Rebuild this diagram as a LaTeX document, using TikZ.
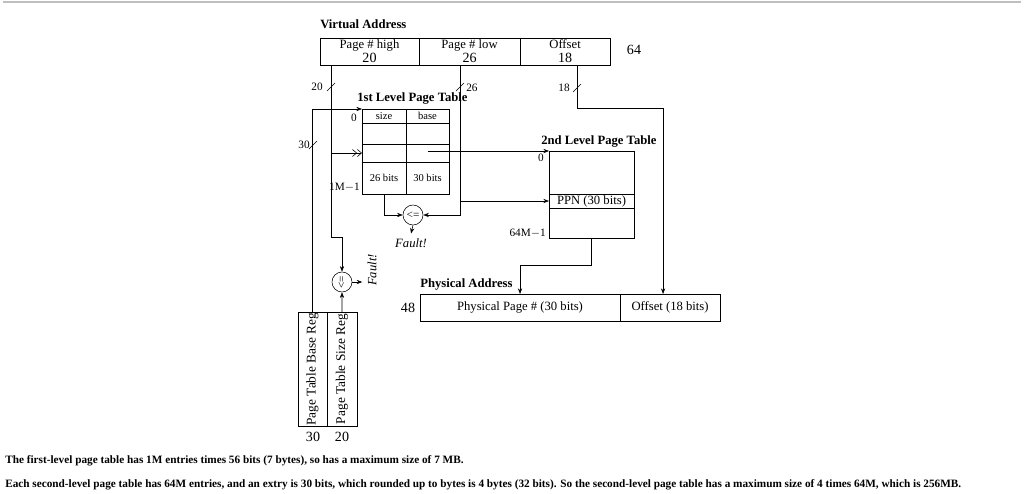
\documentclass[tikz,border=0pt]{standalone}
\usepackage{fontspec}
\setmainfont{Liberation Serif}
\usepackage{graphicx}
\usetikzlibrary{arrows.meta,positioning}

\begin{document}
\begin{tikzpicture}[x=0.025cm, y=-0.025cm, node distance=0pt, >={Stealth[length=4pt,width=3pt]},
  box/.style={draw, inner sep=0pt, outer sep=0pt, minimum height=0.675cm, font=\fontsize{9}{10}\selectfont, align=center},
  cell/.style={draw, inner sep=0pt, outer sep=0pt, minimum width=1.1cm, font=\fontsize{7.5}{9}\selectfont},
  head/.style={anchor=base west, inner sep=0pt, font=\fontsize{9}{10}\selectfont\bfseries},
  small/.style={inner sep=0pt, font=\fontsize{8}{9}\selectfont},
  num/.style={font=\fontsize{10}{11}\selectfont},
  cmp/.style={draw, circle, minimum size=0.5cm, inner sep=0pt, font=\fontsize{8}{9}\selectfont},
  reg/.style={draw, inner sep=0pt, outer sep=0pt, minimum height=2.85cm, font=\fontsize{9.5}{10}\selectfont},
  idx/.style={-{Straight Barb[length=3pt,width=5pt]Straight Barb[length=3pt,width=5pt]}},
  note/.style={anchor=base west, inner sep=0pt, font=\fontsize{8}{9}\selectfont\bfseries}]
  \useasboundingbox (0,0) rectangle (1024,493);
  \draw[black!25, line width=1pt] (3,2) -- (1021,2);

  % virtual address
  \node[head] (vatitle) at (320,28) {Virtual Address};
  \node[box, minimum width=2.475cm, anchor=north west] (vahi) at (320,38) {Page \# high\\{\fontsize{10}{10}\selectfont 20}};
  \node[box, minimum width=2.525cm, right=of vahi] (valo) {Page \# low\\{\fontsize{10}{10}\selectfont 26}};
  \node[box, minimum width=2.25cm, right=of valo] (vaoff) {Offset\\{\fontsize{10}{10}\selectfont 18}};
  \draw (vahi.north west) rectangle (vaoff.south east);
  \draw[dashed] (vahi.north east) -- (vahi.south east);
  \node[num] (vabits) at (634,50) {64};
  \coordinate (hi) at (331,65);
  \coordinate (lo) at (460,65);
  \coordinate (of) at (577,65);

  % first level table
  \node[head] (t1title) at (357,101) {1st Level Page Table};
  \node[cell, minimum height=.35cm, anchor=north west] (s0) at (362,109) {size};
  \node[cell, minimum width=1.075cm, minimum height=.35cm, right=of s0] (b0) {base};
  \node[cell, minimum height=.525cm, below=of s0] (s1) {};
  \node[cell, minimum width=1.075cm, minimum height=.525cm, right=of s1] (b1) {};
  \node[cell, minimum height=.45cm, below=of s1] (s2) {};
  \node[cell, minimum width=1.075cm, minimum height=.45cm, right=of s2] (b2) {};
  \node[cell, minimum height=.8cm, below=of s2] (s3) {26 bits};
  \node[cell, minimum width=1.075cm, minimum height=.8cm, right=of s3] (b3) {30 bits};
  \node[small, anchor=east] (t1first) at (357,118) {0};
  \node[small, anchor=east] (t1last) at (360,187) {1M$-$1};

  % second level table
  \node[head] (t2title) at (541,144) {2nd Level Page Table};
  \node[cell, minimum width=2.125cm, minimum height=1.075cm, anchor=north west] (p0) at (549,151) {};
  \node[cell, minimum width=2.125cm, minimum height=.35cm, below=of p0, font=\fontsize{9}{10}\selectfont] (ppn) {PPN (30 bits)};
  \node[cell, minimum width=2.125cm, minimum height=.75cm, below=of ppn] (p2) {};
  \node[small, anchor=east] (t2first) at (544,158) {0};
  \node[small, anchor=east] (t2last) at (546,233) {64M$-$1};

  % comparators
  \node[cmp] (le) at (413,215) {<=};
  \node[font=\fontsize{9}{10}\selectfont\itshape] (f1) at (411,243) {Fault!};
  \node[cmp] (ge) at (342,282) {\rotatebox{90}{<=}};
  \node[font=\fontsize{9}{10}\selectfont\itshape] (f2) at (372,270) {\rotatebox{90}{Fault!}};

  % registers
  \node[reg, minimum width=.725cm, anchor=north west] (breg) at (298,312) {\rotatebox{90}{Page Table Base Reg}};
  \node[reg, minimum width=.75cm, right=of breg] (sreg) {\rotatebox{90}{Page Table Size Reg}};
  \node[num] (bregbits) at (313,437) {30};
  \node[num] (sregbits) at (342,437) {20};

  % physical address
  \node[head] (patitle) at (420,287) {Physical Address};
  \node[box, minimum width=5cm, anchor=north west] (pp) at (420,294) {Physical Page \# (30 bits)};
  \node[box, minimum width=2.5cm, right=of pp] (poff) {Offset (18 bits)};
  \node[num] (pabits) at (408,308) {48};

  % wires
  \draw[->] (hi) -- ++(0,172) -| (ge.north);
  \draw[idx] (hi |- s2.west) -- (s2.west);
  \draw[->] (lo) |- (le.east);
  \draw[->] (lo |- ppn.west) -- (ppn.west);
  \draw[->] (b2.center |- p0.north) -- (p0.north west);
  \draw[->] (s3.south) |- (le.west);
  \draw[->] (le.south) -- (f1.north);
  \draw[->] (ge.east) -- ++(10,0);
  \draw[->] (sreg.north) -- (ge.south);
  \draw[->] (breg.north) |- (s0.north west);
  \draw[->] (p2.south) -- ++(0,27) -| (pp.north);
  \draw[->] (of) -- ++(0,43) -| ([xshift=-0.175cm]poff.north);

  % bus widths
  \coordinate (w20) at (331,87);
  \coordinate (w26) at (460,87);
  \coordinate (w18) at (577,88);
  \coordinate (w30) at (313,145);
  \foreach \p in {w20,w26,w18,w30}
    \draw ([shift={(-4,4)}]\p) -- ++(8,-8);
  \node[small, anchor=east] (l20) at (323,87) {20};
  \node[small, anchor=west] (l26) at (466,88) {26};
  \node[small, anchor=east] (l18) at (570,88) {18};
  \node[small, anchor=east] (l30) at (310,145) {30};

  % notes
  \node[note] (c1) at (5,463) {The first-level page table has 1M entries times 56 bits (7 bytes), so has a maximum size of 7 MB.};
  \node[note] (c2) at (5,487) {Each second-level page table has 64M entries, and an extry is 30 bits, which rounded up to bytes is 4 bytes (32 bits). So the second-level page table has a maximum size of 4 times 64M, which is 256MB.};
\end{tikzpicture}
\end{document}
